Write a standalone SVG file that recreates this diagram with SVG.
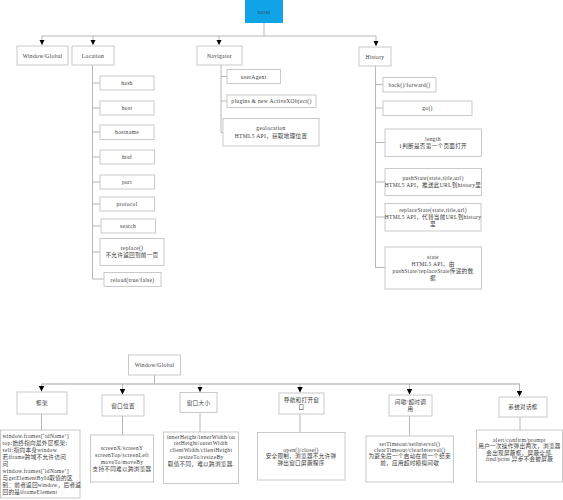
<svg xmlns="http://www.w3.org/2000/svg" width="563" height="500" viewBox="0 0 563 500">
<style>
.box{fill:#fff;stroke:#c4c4c4;stroke-width:0.9}
.t{font-family:"Liberation Serif","Noto Sans CJK SC",serif;font-size:5.6px;letter-spacing:0.3px;fill:#3a3a3a;text-anchor:middle}
.tl{text-anchor:start}
.ln{fill:none;stroke:#a6a6a6;stroke-width:0.8}
.ln2{fill:none;stroke:#c2c2c2;stroke-width:1.4}
</style>
<defs>
<marker id="arr" viewBox="0 0 6 6" refX="6" refY="3" markerWidth="5.5" markerHeight="5.5" markerUnits="userSpaceOnUse" orient="auto">
<path d="M0,0L6,3L0,6z" fill="#000"/>
</marker>
</defs>
<rect width="563" height="500" fill="#fff"/>
<g id="connectors">
<path class="ln" d="M264,23V36M42,36H376"/>
<path class="ln" d="M42,36V45" marker-end="url(#arr)"/>
<path class="ln" d="M93,36V45" marker-end="url(#arr)"/>
<path class="ln" d="M219,36V45" marker-end="url(#arr)"/>
<path class="ln" d="M376,36V46" marker-end="url(#arr)"/>
<path class="ln" d="M92.5,65V279M92.5,83H100M92.5,108H100M92.5,132H100M92.5,157H100M92.5,182H100M92.5,204H100M92.5,226H101M92.5,252H100M92.5,279H104"/>
<path class="ln" d="M221,65V132.5M221,76.5H227M221,101H227M221,132.5H223"/>
<path class="ln" d="M375.5,66V267.5M375.5,84.5H383M375.5,108H383M375.5,142.5H385M375.5,182H385M375.5,217H385M375.5,267.5H385"/>
<path class="ln" d="M154.5,375V384"/>
<path class="ln2" d="M41.5,384H520"/>
<path class="ln" d="M41.5,384V391.5" marker-end="url(#arr)"/>
<path class="ln" d="M122.5,384V394.5" marker-end="url(#arr)"/>
<path class="ln" d="M200,384V392" marker-end="url(#arr)"/>
<path class="ln" d="M300,384V392.5" marker-end="url(#arr)"/>
<path class="ln" d="M409.5,384V394.5" marker-end="url(#arr)"/>
<path class="ln" d="M519.5,384V396.5" marker-end="url(#arr)"/>
<path class="ln" d="M41.5,414V430M122.5,416V435M200,412.5V432M300,414V432.5M409.5,416V436M520,417V430"/>
</g>
<g id="bom">
<rect x="245" y="0" width="38" height="23" fill="#10a3e6"/>
<text class="t" x="264" y="13.5" style="font-size:5px;fill:#345">BOM</text>
</g>
<g id="window-global">
<rect class="box" x="17" y="46" width="51" height="19"/>
<text class="t" x="42.5" y="57.5">Window/Global</text>
</g>
<g id="location">
<rect class="box" x="72" y="46" width="42" height="19"/>
<text class="t" x="93" y="57.5">Location</text>
</g>
<g id="navigator">
<rect class="box" x="197" y="46" width="45" height="19"/>
<text class="t" x="219.5" y="57.5">Navigator</text>
</g>
<g id="history">
<rect class="box" x="359" y="47" width="32" height="19"/>
<text class="t" x="375" y="58.5">History</text>
</g>
<g id="hash"><rect class="box" x="100" y="76" width="54" height="14"/><text class="t" x="127" y="85">hash</text></g>
<g id="host"><rect class="box" x="100" y="101" width="54" height="14"/><text class="t" x="127" y="110">host</text></g>
<g id="hostname"><rect class="box" x="100" y="125" width="54" height="14.5"/><text class="t" x="127" y="134.3">hostname</text></g>
<g id="href"><rect class="box" x="100" y="150" width="54.5" height="14"/><text class="t" x="127" y="159">href</text></g>
<g id="port"><rect class="box" x="100" y="175" width="54.5" height="14"/><text class="t" x="127" y="184">port</text></g>
<g id="protocol"><rect class="box" x="100" y="197" width="54.5" height="14"/><text class="t" x="127" y="206">protocol</text></g>
<g id="search"><rect class="box" x="101" y="219" width="54.5" height="14"/><text class="t" x="128" y="228">search</text></g>
<g id="replace"><rect class="box" x="100" y="238.5" width="64" height="27"/><text class="t" x="132" y="250.3">replace()</text><text class="t" x="132" y="257.3">不允许返回到前一页</text></g>
<g id="reload"><rect class="box" x="104" y="272.5" width="57" height="14"/><text class="t" x="132.5" y="281.5">reload(true/false)</text></g>
<g id="useragent"><rect class="box" x="227" y="69.5" width="53.5" height="14"/><text class="t" x="253.7" y="78.5">userAgent</text></g>
<g id="plugins"><rect class="box" x="227" y="95" width="89" height="12.5"/><text class="t" x="271.5" y="103.3">plugins &amp; new ActiveXObject()</text></g>
<g id="geolocation"><rect class="box" x="223" y="118.5" width="96" height="27.5"/><text class="t" x="271" y="130.3">geolocation</text><text class="t" x="271" y="138">HTML5 API，获取地理位置</text></g>
<g id="back-forward"><rect class="box" x="383" y="77.5" width="53" height="14.5"/><text class="t" x="409.5" y="86.7">back()/forward()</text></g>
<g id="go"><rect class="box" x="383" y="101" width="89" height="14.5"/><text class="t" x="427.5" y="110.3">go()</text></g>
<g id="length"><rect class="box" x="385" y="129" width="96.5" height="27.5"/><text class="t" x="433" y="141">length</text><text class="t" x="433" y="147.7">1判断是否第一个页面打开</text></g>
<g id="pushstate"><rect class="box" x="385" y="168.5" width="96.5" height="27"/><text class="t" x="433" y="180">pushState(state,title,url)</text><text class="t" x="433" y="187.3">HTML5 API，推送此URL到history里</text></g>
<g id="replacestate"><rect class="box" x="385" y="203.5" width="96" height="27.5"/><text class="t" x="433" y="212">replaceState(state,title,url)</text><text class="t" x="433" y="219.3">HTML5 API，代替当前URL到history</text><text class="t" x="433" y="226">里</text></g>
<g id="state"><rect class="box" x="385" y="247" width="96.5" height="42"/><text class="t" x="433" y="259">state</text><text class="t" x="433" y="266.3">HTML5 API，由</text><text class="t" x="433" y="273">pushState/replaceState传递的数</text><text class="t" x="433" y="279.7">据</text></g>
<g id="window-global-2"><rect class="box" x="128.5" y="355" width="52" height="20"/><text class="t" x="154.5" y="367">Window/Global</text></g>
<g id="frames"><rect class="box" x="17" y="392" width="50" height="22"/><text class="t" x="42" y="405">框架</text></g>
<g id="win-pos"><rect class="box" x="102" y="395" width="42" height="21"/><text class="t" x="123" y="407.5">窗口位置</text></g>
<g id="win-size"><rect class="box" x="180" y="392.5" width="37" height="20"/><text class="t" x="198.5" y="404.5">窗口大小</text></g>
<g id="nav-open"><rect class="box" x="279" y="393" width="45" height="21"/><text class="t" x="301.5" y="402">导航和打开窗</text><text class="t" x="301.5" y="408.5">口</text></g>
<g id="timers"><rect class="box" x="389" y="395" width="43" height="21"/><text class="t" x="410.5" y="404">间歇/超时调</text><text class="t" x="410.5" y="410.5">用</text></g>
<g id="dialogs"><rect class="box" x="499" y="397" width="48" height="20"/><text class="t" x="523" y="409">系统对话框</text></g>
<g id="frames-detail"><rect class="box" x="0.5" y="430" width="79.5" height="68"/>
<text class="t tl" x="2.5" y="437.5">window.frames[‘idName’]</text>
<text class="t tl" x="2.5" y="444.6">top:始终指向最外层框架;</text>
<text class="t tl" x="2.5" y="451.7">self:指向本身window</text>
<text class="t tl" x="2.5" y="458.8">若iframe跨域不允许访问</text>
<text class="t tl" x="2.5" y="465.9">问</text>
<text class="t tl" x="2.5" y="473">window.frames[‘idName’]</text>
<text class="t tl" x="2.5" y="480.1">与getElementById取值的区</text>
<text class="t tl" x="2.5" y="487.2">别：前者返回window，后者返</text>
<text class="t tl" x="2.5" y="494.3">回的是iframeElement</text>
</g>
<g id="win-pos-detail"><rect class="box" x="90.5" y="435" width="63" height="47"/>
<text class="t" x="122" y="449.5">screenX/screenY</text>
<text class="t" x="122" y="456.5">screenTop/screenLeft</text>
<text class="t" x="122" y="463.5">moveTo/moveBy</text>
<text class="t" x="122" y="470.5">支持不同难以跨浏览器</text>
</g>
<g id="win-size-detail"><rect class="box" x="163.5" y="432" width="75" height="51.5"/>
<text class="t" x="201" y="438.5">innerHeight/innerWidth/ou</text>
<text class="t" x="201" y="445.3">terHeight/outerWidth</text>
<text class="t" x="201" y="452.1">clientWidth/clientHeight</text>
<text class="t" x="201" y="458.9">resizeTo/resizeBy</text>
<text class="t" x="201" y="465.7">取值不同，难以跨浏览器.</text>
</g>
<g id="nav-open-detail"><rect class="box" x="257.5" y="432.5" width="87.5" height="47.5"/>
<text class="t" x="301" y="451.5">open()/close()</text>
<text class="t" x="301" y="458">安全限制，浏览器不允许弹</text>
<text class="t" x="301" y="464.5">弹出窗口屏蔽程序</text>
</g>
<g id="timers-detail"><rect class="box" x="366" y="436" width="87.5" height="46"/>
<text class="t" x="409.7" y="446">setTimeout/setInterval()</text>
<text class="t" x="409.7" y="452.2">clearTimeout/clearInterval()</text>
<text class="t" x="409.7" y="458.4">为避免后一个启动在前一个结束</text>
<text class="t" x="409.7" y="464.6">前，应用超时模拟间歇</text>
</g>
<g id="dialogs-detail"><rect class="box" x="476.5" y="430" width="86" height="52"/>
<text class="t" x="519.5" y="441.5">alert/confirm/prompt</text>
<text class="t" x="519.5" y="448">用户一次操作弹出两次，浏览器</text>
<text class="t" x="519.5" y="454.5">会出现屏蔽框，屏蔽全部.</text>
<text class="t" x="519.5" y="461">find/print 异步不会被屏蔽</text>
</g>
</svg>
